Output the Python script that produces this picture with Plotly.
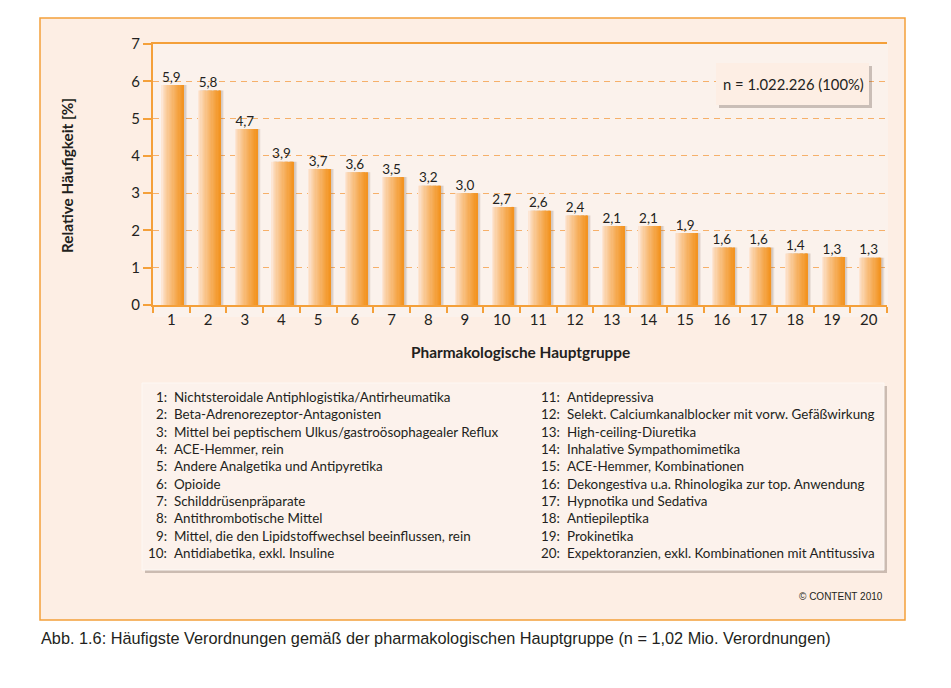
import plotly.graph_objects as go

# ---------------- data ----------------
categories = [str(i) for i in range(1, 21)]
bar_heights = [5.9, 5.75, 4.72, 3.84, 3.65, 3.56, 3.43, 3.2, 3.0, 2.63,
               2.53, 2.4, 2.12, 2.12, 1.93, 1.54, 1.54, 1.38, 1.29, 1.27]
value_labels = ["5,9", "5,8", "4,7", "3,9", "3,7", "3,6", "3,5", "3,2", "3,0", "2,7",
                "2,6", "2,4", "2,1", "2,1", "1,9", "1,6", "1,6", "1,4", "1,3", "1,3"]
group_names = [
    "Nichtsteroidale Antiphlogistika/Antirheumatika",
    "Beta-Adrenorezeptor-Antagonisten",
    "Mittel bei peptischem Ulkus/gastroösophagealer Reflux",
    "ACE-Hemmer, rein",
    "Andere Analgetika und Antipyretika",
    "Opioide",
    "Schilddrüsenpräparate",
    "Antithrombotische Mittel",
    "Mittel, die den Lipidstoffwechsel beeinflussen, rein",
    "Antidiabetika, exkl. Insuline",
    "Antidepressiva",
    "Selekt. Calciumkanalblocker mit vorw. Gefäßwirkung",
    "High-ceiling-Diuretika",
    "Inhalative Sympathomimetika",
    "ACE-Hemmer, Kombinationen",
    "Dekongestiva u.a. Rhinologika zur top. Anwendung",
    "Hypnotika und Sedativa",
    "Antiepileptika",
    "Prokinetika",
    "Expektoranzien, exkl. Kombinationen mit Antitussiva",
]
y_ticks = [0, 1, 2, 3, 4, 5, 6, 7]
total_text = "n = 1.022.226 (100%)"
x_title = "Pharmakologische Hauptgruppe"
y_title = "Relative Häufigkeit [%]"
caption = "Abb. 1.6: Häufigste Verordnungen gemäß der pharmakologischen Hauptgruppe (n = 1,02 Mio. Verordnungen)"
copyright_text = "© CONTENT 2010"

# ---------------- layout constants ----------------
OFF = 8  # page body margin
W, H = 951 - OFF, 688 - OFF
L, R, T, B = 153, 887, 44, 305  # target page pixel positions of plot area
ORANGE = "#f4a03a"
TXT = "#231f20"
FONT = "Lato, 'Open Sans', sans-serif"


def px(x):
    return (x - L) / (R - L)


def py(y):
    return (B - y) / (B - T)


fig = go.Figure()

# shadow behind bars
for off, alpha in [(-0.19, 0.08), (-0.21, 0.10), (-0.23, 0.10)]:
    fig.add_trace(go.Bar(x=categories, y=bar_heights, offset=off, width=0.62,
                         marker=dict(color=f"rgba(110,90,80,{alpha})", line=dict(width=0)),
                         hoverinfo="skip", showlegend=False))

# gradient bars built from slices
N = 18
c0 = (253, 230, 212)
c1 = (243, 148, 34)
bw = 0.6
start = -0.26
for i in range(N):
    t = i / (N - 1)
    t2 = t ** 0.8
    col = tuple(round(c0[k] + (c1[k] - c0[k]) * t2) for k in range(3))
    fig.add_trace(go.Bar(x=categories, y=bar_heights,
                         offset=start + i * bw / N, width=bw / N + 0.004,
                         marker=dict(color=f"rgb{col}", line=dict(width=0)),
                         hoverinfo="skip", showlegend=False))

# value labels
fig.add_trace(go.Scatter(x=categories, y=bar_heights, mode="text", text=value_labels,
                         textposition="top center",
                         textfont=dict(family=FONT, size=13.5, color=TXT),
                         hoverinfo="skip", showlegend=False, cliponaxis=False))

shapes = []
# outer panel
shapes.append(dict(type="rect", xref="paper", yref="paper", layer="below",
                   x0=px(40), x1=px(905), y0=py(620), y1=py(18),
                   fillcolor="#fdeee4", line=dict(color=ORANGE, width=1.5)))
# plot background
shapes.append(dict(type="rect", xref="paper", yref="paper", layer="below",
                   x0=px(L), x1=px(R + 1), y0=py(B + 12), y1=py(T),
                   fillcolor="#fbf2ec", line=dict(width=0)))
# n box shadow + box
shapes.append(dict(type="rect", xref="paper", yref="paper", layer="above",
                   x0=px(719), x1=px(872), y0=py(108), y1=py(66),
                   fillcolor="rgba(90,70,60,0.3)", line=dict(width=0)))
shapes.append(dict(type="rect", xref="paper", yref="paper", layer="above",
                   x0=px(716), x1=px(869), y0=py(105), y1=py(63),
                   fillcolor="#fdeee4", line=dict(width=0)))
# legend box shadow + box
shapes.append(dict(type="rect", xref="paper", yref="paper", layer="above",
                   x0=px(145), x1=px(887), y0=py(573), y1=py(386),
                   fillcolor="rgba(90,70,60,0.3)", line=dict(width=0)))
shapes.append(dict(type="rect", xref="paper", yref="paper", layer="above",
                   x0=px(142), x1=px(884), y0=py(570), y1=py(383),
                   fillcolor="#fcf2ec", line=dict(color="#fdf8f4", width=1)))

annotations = []
annotations.append(dict(text=total_text, x=px(793), y=py(84), xref="paper", yref="paper",
                        showarrow=False, xanchor="center", yanchor="middle",
                        font=dict(family=FONT, size=14.8, color=TXT)))
annotations.append(dict(text=f"<b>{y_title}</b>", x=px(67), y=py(176), xref="paper", yref="paper",
                        showarrow=False, textangle=-90, xanchor="center", yanchor="middle",
                        font=dict(family=FONT, size=15.3, color=TXT)))
annotations.append(dict(text=f"<b>{x_title}</b>", x=px(520), y=py(352), xref="paper", yref="paper",
                        showarrow=False, xanchor="center", yanchor="middle",
                        font=dict(family=FONT, size=15.4, color=TXT)))

for i, name in enumerate(group_names):
    col = i // 10
    row = i % 10
    ypos = 397 + row * 17.35
    num_right = 169 if col == 0 else 562
    txt_left = 172 if col == 0 else 565
    annotations.append(dict(text=f"{i + 1}:", x=px(num_right), y=py(ypos), xref="paper", yref="paper",
                            showarrow=False, xanchor="right", yanchor="middle",
                            font=dict(family=FONT, size=13.4, color=TXT)))
    annotations.append(dict(text=name, x=px(txt_left), y=py(ypos), xref="paper", yref="paper",
                            showarrow=False, xanchor="left", yanchor="middle",
                            font=dict(family=FONT, size=13.4, color=TXT)))

annotations.append(dict(text=copyright_text, x=px(885), y=py(597), xref="paper", yref="paper",
                        showarrow=False, xanchor="right", yanchor="middle",
                        font=dict(family="'Liberation Sans Narrow', 'Liberation Sans', sans-serif",
                                  size=10, color=TXT)))
annotations.append(dict(text=caption, x=px(39), y=py(638), xref="paper", yref="paper",
                        showarrow=False, xanchor="left", yanchor="middle",
                        font=dict(family="'Liberation Sans', Arial, sans-serif", size=16.3, color=TXT)))

fig.update_layout(
    width=W, height=H,
    margin=dict(l=L - OFF, r=(951 - R), t=T - OFF, b=(688 - B), pad=0),
    paper_bgcolor="white",
    plot_bgcolor="rgba(0,0,0,0)",
    barmode="overlay",
    showlegend=False,
    shapes=shapes,
    annotations=annotations,
    xaxis=dict(type="category", categoryorder="array", categoryarray=categories,
               range=[-0.5, 19.5], showline=True, linecolor=ORANGE, linewidth=2, mirror=True,
               ticks="outside", tickson="boundaries", ticklen=6, tickcolor=ORANGE, tickwidth=2,
               showgrid=False, zeroline=False,
               tickfont=dict(family=FONT, size=15, color=TXT), fixedrange=True),
    yaxis=dict(range=[0, 7], tickvals=y_ticks, showline=True, linecolor=ORANGE, linewidth=2,
               ticks="outside", ticklen=8, tickcolor=ORANGE, tickwidth=2,
               showgrid=True, gridcolor="#f6b06a", gridwidth=1.3, griddash="6px,5px",
               zeroline=False, tickfont=dict(family=FONT, size=15, color=TXT), fixedrange=True),
)

fig.write_html("out.html")
